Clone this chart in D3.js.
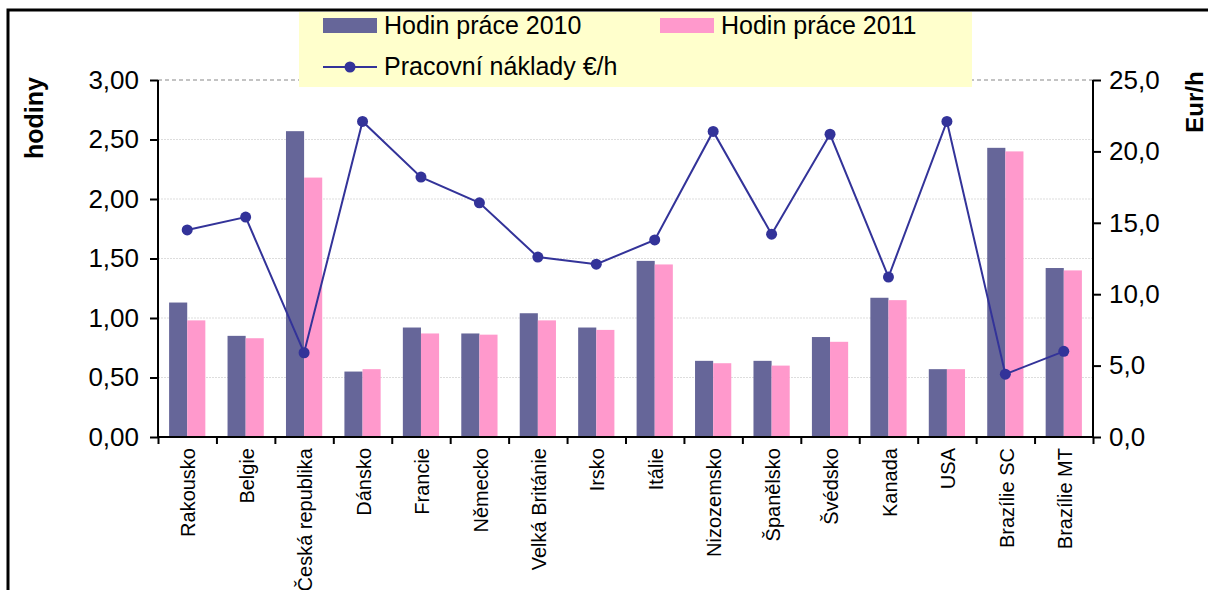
<!DOCTYPE html>
<html>
<head>
<meta charset="utf-8">
<script src="https://cdnjs.cloudflare.com/ajax/libs/d3/7.8.5/d3.min.js"></script>
<style>
  body { margin: 0; background: #fff; }
  text { font-family: "Liberation Sans", Arial, sans-serif; fill: #000; }
</style>
</head>
<body>
<div id="chart"></div>
<script>
const WIDTH  = 1208;
const HEIGHT = 590;
const LEFT   = 158;
const RIGHT  = 1093;
const TOP    = 80;
const BOTTOM = 437;

// data
var countries = ["Rakousko", "Belgie", "Česká republika", "Dánsko", "Francie", "Německo",
                 "Velká Británie", "Irsko", "Itálie", "Nizozemsko", "Španělsko", "Švédsko",
                 "Kanada", "USA", "Brazílie SC", "Brazílie MT"];
var hours2010 = [1.13, 0.85, 2.57, 0.55, 0.92, 0.87, 1.04, 0.92, 1.48, 0.64, 0.64, 0.84, 1.17, 0.57, 2.43, 1.42];
var hours2011 = [0.98, 0.83, 2.18, 0.57, 0.87, 0.86, 0.98, 0.90, 1.45, 0.62, 0.60, 0.80, 1.15, 0.57, 2.40, 1.40];
var laborCost = [14.5, 15.4, 5.9, 22.1, 18.2, 16.4, 12.6, 12.1, 13.8, 21.4, 14.2, 21.2, 11.2, 22.1, 4.4, 6.0];
var leftTicks  = [0, 0.5, 1, 1.5, 2, 2.5, 3];
var rightTicks = [0, 5, 10, 15, 20, 25];
var seriesNames = ["Hodin práce 2010", "Hodin práce 2011", "Pracovní náklady €/h"];

const COL_2010 = "#666699";
const COL_2011 = "#ff99cc";
const COL_LINE = "#333399";

var svg = d3.select("#chart")
            .append("svg")
            .attr("width", WIDTH)
            .attr("height", HEIGHT);

svg.append("rect").attr("width", WIDTH).attr("height", HEIGHT).attr("fill", "#fff");

// scales
var x0 = d3.scaleBand()
           .domain(countries)
           .range([LEFT, RIGHT])
           .paddingInner(0.38)
           .paddingOuter(0.19);
var x1 = d3.scaleBand()
           .domain(["2010", "2011"])
           .range([0, x0.bandwidth()]);
var xEdge = d3.scaleLinear().domain([0, countries.length]).range([LEFT, RIGHT]);
var yLeft = d3.scaleLinear().domain([0, 3]).range([BOTTOM, TOP]);
var yRight = d3.scaleLinear().domain([0, 25]).range([BOTTOM, TOP]);

var fmt2 = d => d3.format(".2f")(d).replace(".", ",");
var fmt1 = d => d3.format(".1f")(d).replace(".", ",");

// gridlines
svg.append("g")
   .selectAll("line")
   .data(leftTicks.filter(d => d > 0))
   .enter()
   .append("line")
   .attr("x1", LEFT)
   .attr("x2", RIGHT)
   .attr("y1", d => yLeft(d))
   .attr("y2", d => yLeft(d))
   .attr("stroke", d => d === 3 ? "#b0b0b0" : "#dddddd")
   .attr("stroke-width", d => d === 3 ? 1.5 : 1.2)
   .attr("stroke-dasharray", d => d === 3 ? "4,3" : "2,1");

// bars
var groups = svg.append("g")
   .selectAll("g")
   .data(countries)
   .enter()
   .append("g")
   .attr("transform", d => "translate(" + x0(d) + ",0)");

groups.append("rect")
      .attr("x", x1("2010"))
      .attr("width", x1.bandwidth())
      .attr("y", (d, i) => yLeft(hours2010[i]))
      .attr("height", (d, i) => BOTTOM - yLeft(hours2010[i]))
      .attr("fill", COL_2010);

groups.append("rect")
      .attr("x", x1("2011"))
      .attr("width", x1.bandwidth())
      .attr("y", (d, i) => yLeft(hours2011[i]))
      .attr("height", (d, i) => BOTTOM - yLeft(hours2011[i]))
      .attr("fill", COL_2011);

// line
var line = d3.line()
             .x((d, i) => x0(countries[i]) + x0.bandwidth() / 2)
             .y(d => yRight(d));

svg.append("path")
   .datum(laborCost)
   .attr("d", line)
   .attr("fill", "none")
   .attr("stroke", COL_LINE)
   .attr("stroke-width", 2);

svg.append("g")
   .selectAll("circle")
   .data(laborCost)
   .enter()
   .append("circle")
   .attr("cx", (d, i) => x0(countries[i]) + x0.bandwidth() / 2)
   .attr("cy", d => yRight(d))
   .attr("r", 5.5)
   .attr("fill", COL_LINE);

// axes
var leftAxis = svg.append("g")
   .attr("transform", "translate(" + LEFT + ",0)")
   .call(d3.axisLeft(yLeft).tickValues(leftTicks).tickSize(8).tickPadding(11).tickFormat(fmt2));

var rightAxis = svg.append("g")
   .attr("transform", "translate(" + RIGHT + ",0)")
   .call(d3.axisRight(yRight).tickValues(rightTicks).tickSize(8).tickPadding(8).tickFormat(fmt1));

var bottomAxis = svg.append("g")
   .attr("transform", "translate(0," + BOTTOM + ")")
   .call(d3.axisBottom(xEdge).tickValues(d3.range(countries.length + 1)).tickSize(7).tickFormat(""));

[leftAxis, rightAxis, bottomAxis].forEach(function(a) {
    a.select(".domain").attr("stroke", "#000").attr("stroke-width", 2);
    a.selectAll(".tick line").attr("stroke", "#000").attr("stroke-width", 2);
    a.selectAll(".tick text")
     .attr("font-size", 26)
     .attr("font-family", "Liberation Sans, Arial, sans-serif")
     .attr("fill", "#000");
});
bottomAxis.select(".domain").attr("d", "M" + LEFT + ",0H" + RIGHT);
leftAxis.select(".domain").attr("d", "M0," + TOP + "V" + BOTTOM);
rightAxis.select(".domain").attr("d", "M0," + TOP + "V" + BOTTOM);

// category labels
svg.append("g")
   .selectAll("text")
   .data(countries)
   .enter()
   .append("text")
   .attr("transform", d => "translate(" + (x0(d) + x0.bandwidth() / 2 + 1) + "," + (BOTTOM + 11) + ") rotate(-90)")
   .attr("text-anchor", "end")
   .attr("dy", "0.36em")
   .attr("font-size", 20)
   .text(d => d);

// axis titles
svg.append("text")
   .attr("transform", "translate(43,118) rotate(-90)")
   .attr("text-anchor", "middle")
   .attr("font-size", 25)
   .attr("font-weight", "bold")
   .text("hodiny");

svg.append("text")
   .attr("transform", "translate(1203,102) rotate(-90)")
   .attr("text-anchor", "middle")
   .attr("font-size", 24)
   .attr("font-weight", "bold")
   .text("Eur/h");

// legend
var legend = svg.append("g");
legend.append("rect")
      .attr("x", 299)
      .attr("y", 12)
      .attr("width", 673)
      .attr("height", 75)
      .attr("fill", "#ffffcc");

legend.append("rect").attr("x", 323).attr("y", 18).attr("width", 54).attr("height", 15).attr("fill", COL_2010);
legend.append("text").attr("x", 384).attr("y", 34).attr("font-size", 25).text(seriesNames[0]);
legend.append("rect").attr("x", 660).attr("y", 18).attr("width", 54).attr("height", 15).attr("fill", COL_2011);
legend.append("text").attr("x", 721).attr("y", 34).attr("font-size", 25).text(seriesNames[1]);
legend.append("line").attr("x1", 323).attr("x2", 377).attr("y1", 67).attr("y2", 67)
      .attr("stroke", COL_LINE).attr("stroke-width", 2);
legend.append("circle").attr("cx", 350).attr("cy", 67).attr("r", 5.5).attr("fill", COL_LINE);
legend.append("text").attr("x", 384).attr("y", 75).attr("font-size", 25).text(seriesNames[2]);

// frame
svg.append("path")
   .attr("d", "M8," + HEIGHT + "V10H" + WIDTH)
   .attr("fill", "none")
   .attr("stroke", "#000")
   .attr("stroke-width", 3);
</script>
</body>
</html>
